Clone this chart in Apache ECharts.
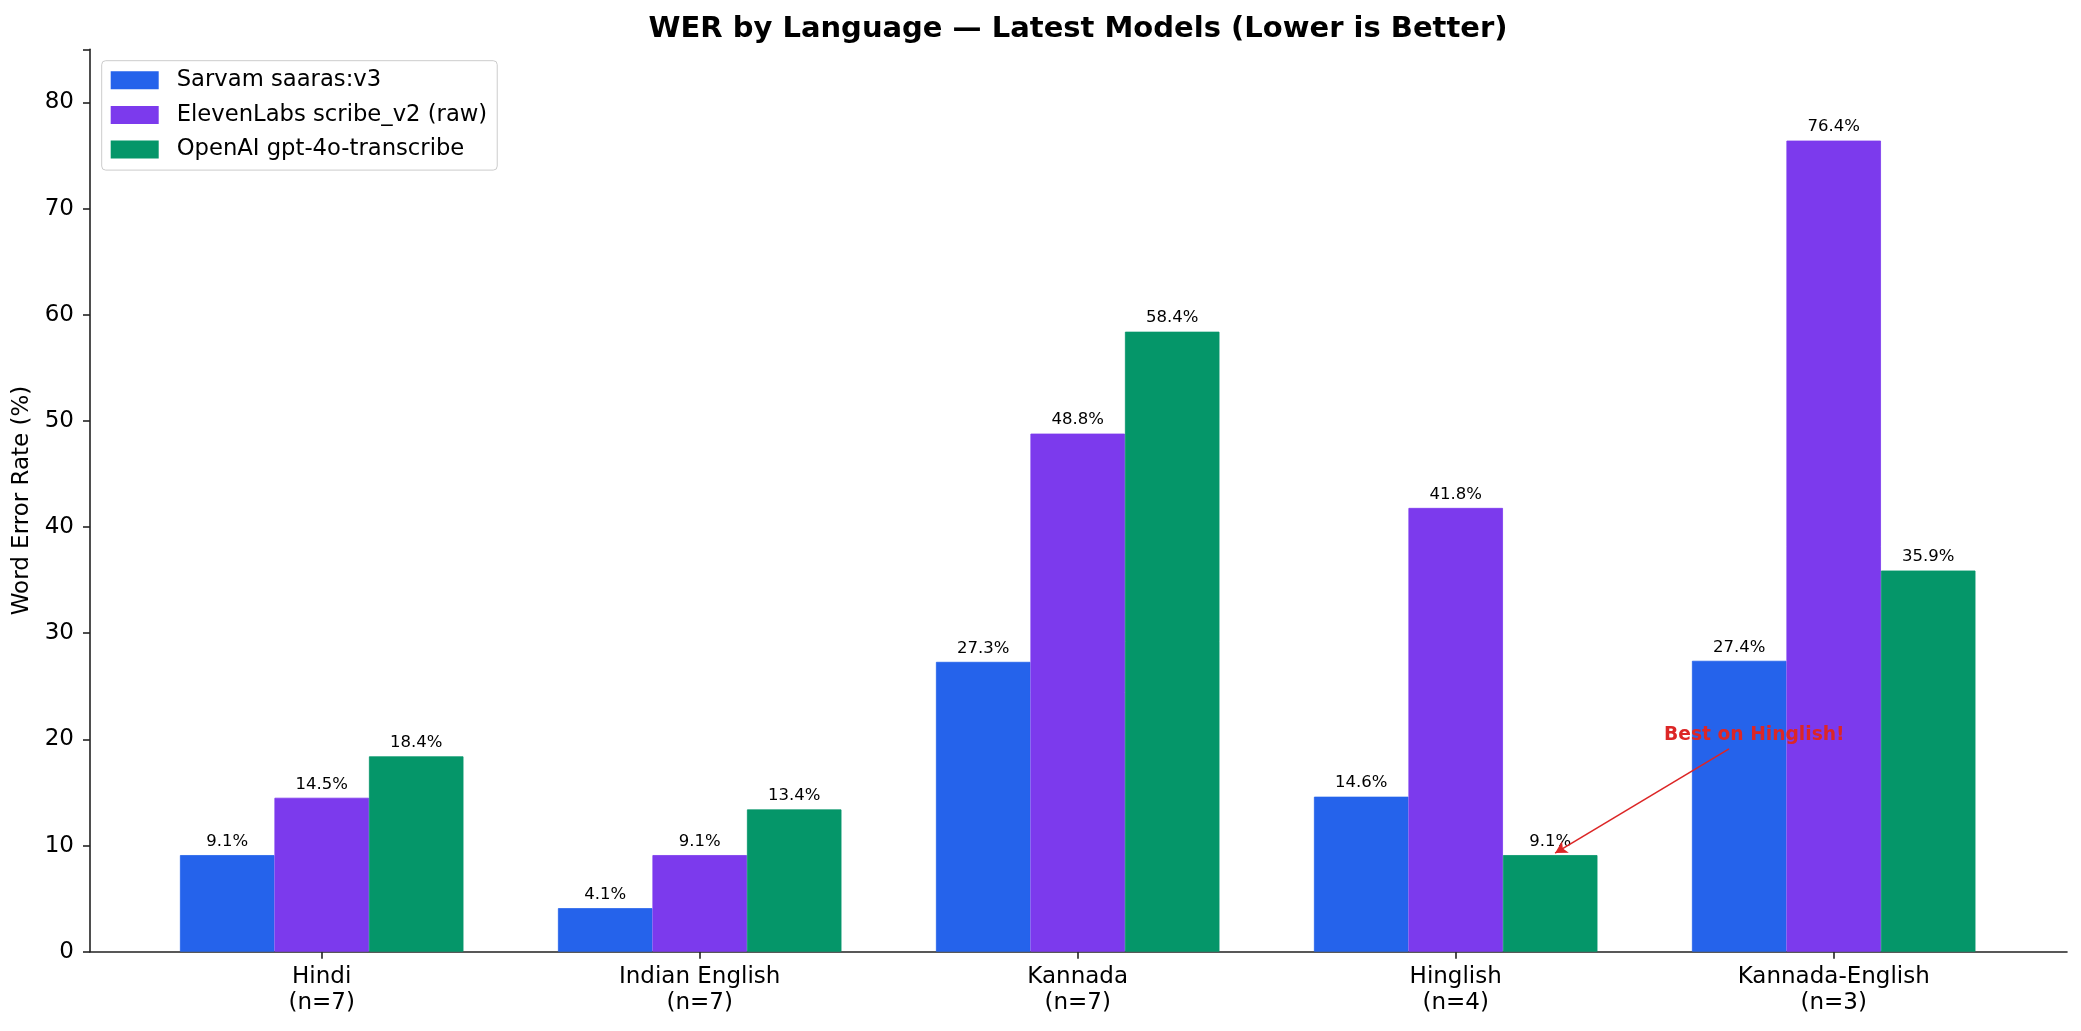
<!DOCTYPE html>
<html>
<head>
<meta charset="utf-8">
<script src="https://cdn.jsdelivr.net/npm/echarts@6/dist/echarts.min.js"></script>
<style>
html,body{margin:0;padding:0;background:#fff;}
#chart{width:2081px;height:1031px;}
</style>
</head>
<body>
<div id="chart"></div>
<script>
const categories = ['Hindi\n(n=7)', 'Indian English\n(n=7)', 'Kannada\n(n=7)', 'Hinglish\n(n=4)', 'Kannada-English\n(n=3)'];
const seriesNames = ['Sarvam saaras:v3', 'ElevenLabs scribe_v2 (raw)', 'OpenAI gpt-4o-transcribe'];
const sarvam = [9.1, 4.1, 27.3, 14.6, 27.4];
const eleven = [14.5, 9.1, 48.8, 41.8, 76.4];
const openai = [18.4, 13.4, 58.4, 9.1, 35.9];
const yTicks = [0, 10, 20, 30, 40, 50, 60, 70, 80];
const annotationText = 'Best on Hinglish!';

const colors = ['#2563EB', '#7C3AED', '#059669'];
const FONT = 'DejaVu Sans';
const chart = echarts.init(document.getElementById('chart'), null, {renderer: 'canvas'});

function barSeries(name, data, color) {
  return {
    name: name, type: 'bar', xAxisIndex: 1, yAxisIndex: 1, data: data,
    barGap: '0%', barCategoryGap: '25%',
    itemStyle: {color: color, borderColor: color, borderWidth: 0.8},
    label: {show: true, position: 'top', distance: 5, color: '#000', fontFamily: FONT, fontSize: 16.5,
      formatter: p => p.value.toFixed(1) + '%'}
  };
}

const option = {
  backgroundColor: '#fff',
  animation: false,
  textStyle: {fontFamily: FONT},
  title: {
    text: 'WER by Language \u2014 Latest Models (Lower is Better)',
    left: 1078, top: 15, textAlign: 'center', padding: 0,
    textStyle: {fontFamily: FONT, fontWeight: 'bold', fontSize: 29, color: '#000'}
  },
  legend: {
    data: seriesNames, orient: 'vertical', left: 101.7, top: 60.7,
    padding: [8, 10, 9, 9], itemGap: 11.7, itemWidth: 46, itemHeight: 16, icon: 'rect',
    borderColor: '#cccccc', borderWidth: 1, borderRadius: 4, backgroundColor: 'rgba(255,255,255,0.8)',
    textStyle: {fontFamily: FONT, fontSize: 22.7, lineHeight: 23, color: '#000', padding: [0, 0, 0, 14]}
  },
  grid: [
    {left: 90, right: 14, top: 49.3, bottom: 79.3, containLabel: false},
    {left: 132.7, right: 58.3, top: 49.3, bottom: 79.3, containLabel: false}
  ],
  xAxis: [
    {type: 'value', gridIndex: 0, min: 0, max: 1,
     axisLine: {show: true, lineStyle: {color: '#222', width: 1.6}},
     axisTick: {show: false}, axisLabel: {show: false}, splitLine: {show: false}},
    {type: 'category', gridIndex: 1, data: categories,
     axisLine: {show: false},
     axisTick: {show: true, alignWithLabel: true, length: 7, lineStyle: {color: '#222', width: 1.6}},
     axisLabel: {fontFamily: FONT, fontSize: 23, lineHeight: 26, color: '#000', margin: 12, interval: 0},
     splitLine: {show: false}},
    {type: 'value', gridIndex: 1, min: -0.5, max: 4.5, show: false}
  ],
  yAxis: [
    {type: 'value', gridIndex: 0, min: 0, max: 85, interval: 10,
     name: 'Word Error Rate (%)', nameLocation: 'middle', nameGap: 43,
     nameTextStyle: {fontFamily: FONT, fontSize: 23, color: '#000'},
     axisLine: {show: true, lineStyle: {color: '#222', width: 1.6}},
     axisTick: {show: true, length: 7, lineStyle: {color: '#222', width: 1.6}},
     axisLabel: {fontFamily: FONT, fontSize: 23, color: '#000', margin: 16,
       formatter: v => yTicks.indexOf(v) >= 0 ? String(v) : ''},
     splitLine: {show: false}},
    {type: 'value', gridIndex: 1, min: 0, max: 85, show: false}
  ],
  series: [
    barSeries(seriesNames[0], sarvam, colors[0]),
    barSeries(seriesNames[1], eleven, colors[1]),
    barSeries(seriesNames[2], openai, colors[2]),
    {
      type: 'scatter', xAxisIndex: 2, yAxisIndex: 1, silent: true, z: 10,
      data: [[3.79, 20.4]], symbolSize: 0,
      itemStyle: {opacity: 1},
      label: {show: true, position: 'inside', formatter: annotationText, opacity: 1,
        fontFamily: FONT, fontWeight: 'bold', fontSize: 18.7, color: '#DC2626'},
      markLine: {
        silent: true, symbol: ['none', 'arrow'], symbolSize: [10, 12],
        label: {show: false},
        lineStyle: {color: '#DC2626', width: 1.6, type: 'solid', opacity: 1},
        data: [[{coord: [3.723, 19.1]}, {coord: [3.263, 9.29]}]]
      }
    }
  ]
};
chart.setOption(option);
</script>
</body>
</html>
